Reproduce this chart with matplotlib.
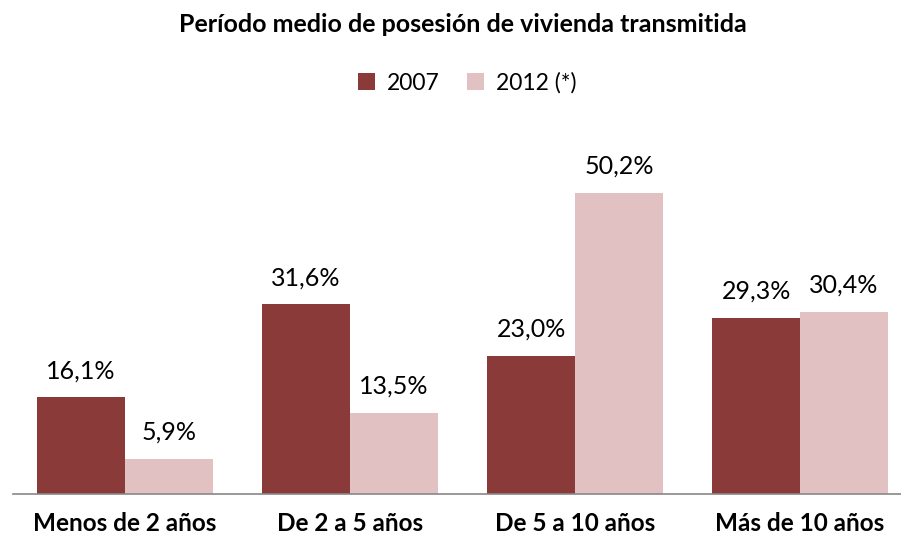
import matplotlib
matplotlib.use("Agg")
import matplotlib.pyplot as plt
import numpy as np

categories = ["Menos de 2 años", "De 2 a 5 años", "De 5 a 10 años", "Más de 10 años"]
series_names = ["2007", "2012 (*)"]
v2007 = [16.1, 31.6, 23.0, 29.3]
v2012 = [5.9, 13.5, 50.2, 30.4]
colors = ["#8B3A3A", "#E2C1C2"]

plt.rcParams['font.family'] = ['Lato', 'DejaVu Sans']

fig = plt.figure(figsize=(9.01, 5.38), dpi=100)
W, H = 901, 538
ax = fig.add_axes([12.5 / W, 44 / H, 900 / W, 360 / H])
x = np.arange(len(categories))
bw = 0.39
b1 = ax.bar(x - bw / 2, v2007, bw, color=colors[0], label=series_names[0])
b2 = ax.bar(x + bw / 2, v2012, bw, color=colors[1], label=series_names[1])
ax.set_xlim(-0.5, 3.5)
ax.set_ylim(0, 60)

def fmt(v):
    return f"{v:.1f}%".replace(".", ",")

for bars, vals in ((b1, v2007), (b2, v2012)):
    for b, v in zip(bars, vals):
        ax.annotate(fmt(v), (b.get_x() + b.get_width() / 2, v), xytext=(0, 11),
                    textcoords="offset points", ha="center", va="bottom", fontsize=18)

for s in ["top", "right", "left"]:
    ax.spines[s].set_visible(False)
ax.spines["bottom"].set_color("#888888")
ax.spines["bottom"].set_linewidth(1.2)
ax.set_yticks([])
ax.set_xticks(x)
ax.set_xticklabels(categories, fontsize=17.5, fontweight="bold")
ax.tick_params(axis="x", length=0, pad=13)

fig.text(463 / W, 1 - 24 / H, "Período medio de posesión de vivienda transmitida",
         ha="center", va="center", fontsize=18, fontweight="bold")
fig.legend(handles=[b1, b2], labels=series_names, loc="center", bbox_to_anchor=(467 / W, 1 - 83 / H),
           ncol=2, frameon=False, fontsize=16.5, handlelength=0.75, handleheight=0.75,
           columnspacing=1.2, handletextpad=0.5)

fig.savefig("out.png", dpi=100)
